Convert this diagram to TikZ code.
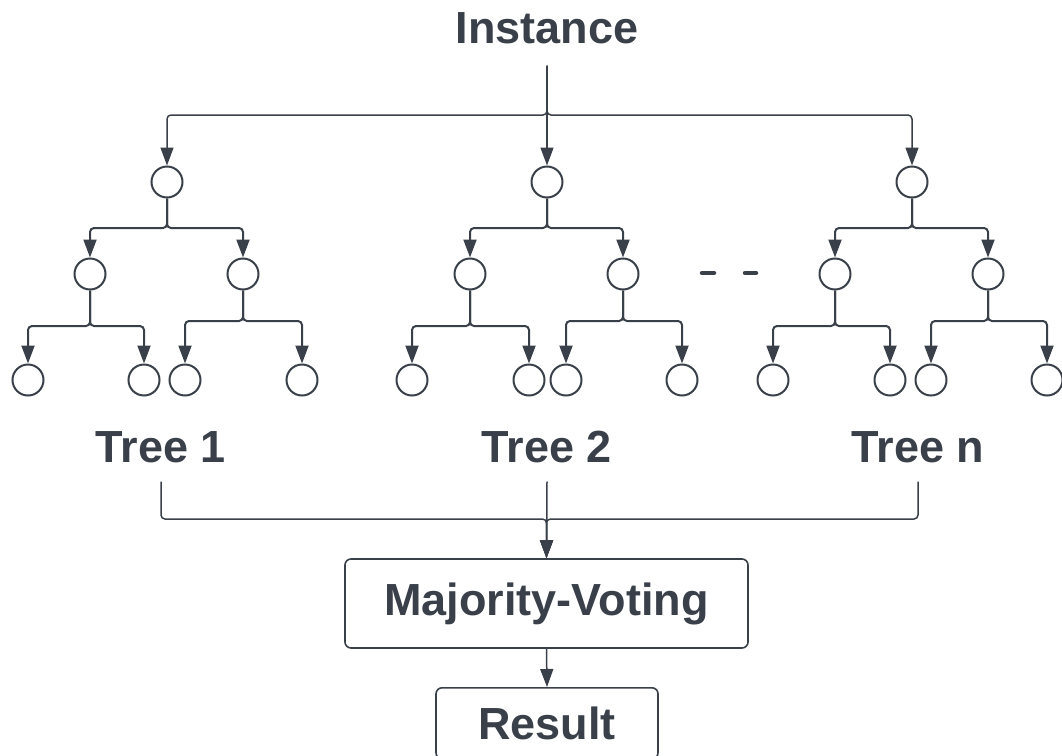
\documentclass[tikz,border=0pt]{standalone}
\usepackage{fontspec}
\setmainfont{Liberation Sans}
\usetikzlibrary{arrows.meta}
\definecolor{ink}{HTML}{3A404A}

\begin{document}
\begin{tikzpicture}[x=1pt,y=-1pt,
        every node/.style={text=ink},
        ball/.style={draw=ink,circle,line width=2pt,minimum size=31pt,inner sep=0pt},
        title/.style={font=\fontsize{45}{54}\selectfont\bfseries,anchor=base,inner xsep=0pt},
        box/.style={draw=ink,rounded corners=6pt,line width=1.6pt,font=\fontsize{45}{54}\selectfont\bfseries},
        edge/.style={draw=ink,line width=2pt,rounded corners=4pt,-{Triangle[length=18pt,width=13pt]}},
        bus/.style={draw=ink,line width=1.5pt,rounded corners=4pt,-{Triangle[length=18pt,width=13pt]}}]
        \useasboundingbox (0,0) rectangle (1062,755);
        \clip (0,0) rectangle (1062,755);

        % Input
        \node[title, inner ysep=22pt] (inst) at (547,43) {Instance};

        % Tree 1
        \node[ball] (t1) at (167,182) {};
        \node[ball] (t1a) at (90,274) {};
        \node[ball] (t1b) at (243,274) {};
        \node[ball] (t1aa) at (28,380) {};
        \node[ball] (t1ab) at (144,380) {};
        \node[ball] (t1ba) at (185,380) {};
        \node[ball] (t1bb) at (302,380) {};
        % Tree 2
        \node[ball] (t2) at (547,182) {};
        \node[ball] (t2a) at (470,274) {};
        \node[ball] (t2b) at (623,274) {};
        \node[ball] (t2aa) at (412,380) {};
        \node[ball] (t2ab) at (529,380) {};
        \node[ball] (t2ba) at (566,380) {};
        \node[ball] (t2bb) at (682,380) {};
        % Tree n
        \node[ball] (tn) at (912,182) {};
        \node[ball] (tna) at (835,274) {};
        \node[ball] (tnb) at (988,274) {};
        \node[ball] (tnaa) at (773,380) {};
        \node[ball] (tnab) at (890,380) {};
        \node[ball] (tnba) at (931,380) {};
        \node[ball] (tnbb) at (1047,380) {};

        % dashes between the trees
        \draw[ink, line width=4.5pt, line cap=round] (702,273) -- (714,273);
        \draw[ink, line width=4.5pt, line cap=round] (745,273) -- (756,273);

        % Labels
        \node[title, inner ysep=19pt] (lab1) at (161,462) {Tree 1};
        \node[title, inner ysep=19pt] (lab2) at (547,462) {Tree 2};
        \node[title, inner ysep=19pt] (labn) at (918,462) {Tree n};

        % Voting and output
        \node[box, minimum width=403pt, minimum height=89pt] (vote) at (546.5,603.5) {Majority-Voting};
        \node[box, minimum width=222pt, minimum height=71pt, anchor=north] (res) at (547,687) {Result};

        % Instance to the roots
        \draw[bus] (inst.south) -- (inst.south |- 0,115) -| (t1.north);
        \draw[bus] (inst.south) -- (t2.north);
        \draw[bus] (inst.south) -- (inst.south |- 0,115) -| (tn.north);

        % Tree 1 edges
        \draw[edge] (t1.south) -- (t1.south |- 0,228) -| (t1a.north);
        \draw[edge] (t1.south) -- (t1.south |- 0,228) -| (t1b.north);
        \draw[edge] (t1a.south) -- (t1a.south |- 0,326) -| (t1aa.north);
        \draw[edge] (t1a.south) -- (t1a.south |- 0,326) -| (t1ab.north);
        \draw[edge] (t1b.south) -- (t1b.south |- 0,321) -| (t1ba.north);
        \draw[edge] (t1b.south) -- (t1b.south |- 0,321) -| (t1bb.north);
        % Tree 2 edges
        \draw[edge] (t2.south) -- (t2.south |- 0,228) -| (t2a.north);
        \draw[edge] (t2.south) -- (t2.south |- 0,228) -| (t2b.north);
        \draw[edge] (t2a.south) -- (t2a.south |- 0,326) -| (t2aa.north);
        \draw[edge] (t2a.south) -- (t2a.south |- 0,326) -| (t2ab.north);
        \draw[edge] (t2b.south) -- (t2b.south |- 0,321) -| (t2ba.north);
        \draw[edge] (t2b.south) -- (t2b.south |- 0,321) -| (t2bb.north);
        % Tree n edges
        \draw[edge] (tn.south) -- (tn.south |- 0,228) -| (tna.north);
        \draw[edge] (tn.south) -- (tn.south |- 0,228) -| (tnb.north);
        \draw[edge] (tna.south) -- (tna.south |- 0,326) -| (tnaa.north);
        \draw[edge] (tna.south) -- (tna.south |- 0,326) -| (tnab.north);
        \draw[edge] (tnb.south) -- (tnb.south |- 0,321) -| (tnba.north);
        \draw[edge] (tnb.south) -- (tnb.south |- 0,321) -| (tnbb.north);

        % Trees to the vote
        \draw[bus] (lab1.south) -- (lab1.south |- 0,519) -| (vote.north);
        \draw[bus] (lab2.south) -- (vote.north);
        \draw[bus] (labn.south) -- (labn.south |- 0,519) -| (vote.north);
        \draw[bus] (vote.south) -- (res.north);
\end{tikzpicture}
\end{document}
